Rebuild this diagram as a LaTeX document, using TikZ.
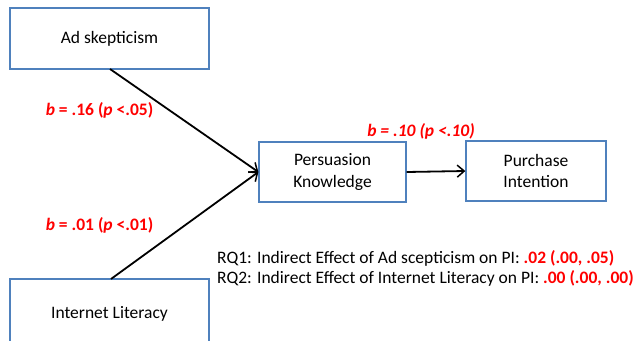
\documentclass[tikz,border=0pt]{standalone}
\usepackage{fontspec}
\setmainfont{Carlito}
\usetikzlibrary{arrows.meta}
\definecolor{boxblue}{RGB}{79,129,189}
\definecolor{lblred}{RGB}{255,0,0}
\tikzset{
  vbox/.style={draw=boxblue, line width=1.3pt, fill=white, inner sep=0pt, align=center, font=\fontsize{17.5}{21.5}\selectfont},
  conn/.style={line width=1.8pt, -{Straight Barb[length=7pt,width=12pt,line width=1.5pt]}},
  lbl/.style={text=lblred, font=\fontsize{17.5}{21}\selectfont\bfseries},
  rq/.style={anchor=west, inner sep=0pt, font=\fontsize{17.5}{21}\selectfont}
}
\begin{document}
\begin{tikzpicture}[x=1pt,y=-1pt]
\useasboundingbox (0,0) rectangle (637,340);
\clip (0,0) rectangle (637,340);
\node[vbox, minimum width=199pt, minimum height=61pt] (ad) at (109.5,38.5) {Ad skepticism};
\node[vbox, minimum width=199pt, minimum height=70pt] (il) at (109.5,314) {\raisebox{4pt}{Internet Literacy}};
\node[vbox, minimum width=147pt, minimum height=60pt] (pk) at (332.5,172) {Persuasion\\Knowledge};
\node[vbox, minimum width=140pt, minimum height=60pt] (pi) at (536,171) {Purchase\\Intention};
\coordinate (adout) at (110,69);
\coordinate (ilout) at (111,279);
\draw[conn] (adout) -- (pk.west);
\draw[conn] (ilout) -- (pk.west);
\draw[conn] (pk.east) -- (pi.west);
\node[lbl] (l1) at (99.5,110) {\itshape b\upshape{} = .16 (\itshape p\upshape{} <.05)};
\node[lbl] (l2) at (99.5,225) {\itshape b\upshape{} = .01 (\itshape p\upshape{} <.01)};
\node[lbl] (l3) at (421,131) {\itshape b = .10 (p <.10)};
\node[rq] (rq1) at (217,258) {RQ1: Indirect Effect of Ad scepticism on PI: \textcolor{lblred}{\bfseries .02 (.00, .05)}};
\node[rq] (rq2) at (217,278) {RQ2: Indirect Effect of Internet Literacy on PI: \textcolor{lblred}{\bfseries .00 (.00, .00)}};
\end{tikzpicture}
\end{document}
